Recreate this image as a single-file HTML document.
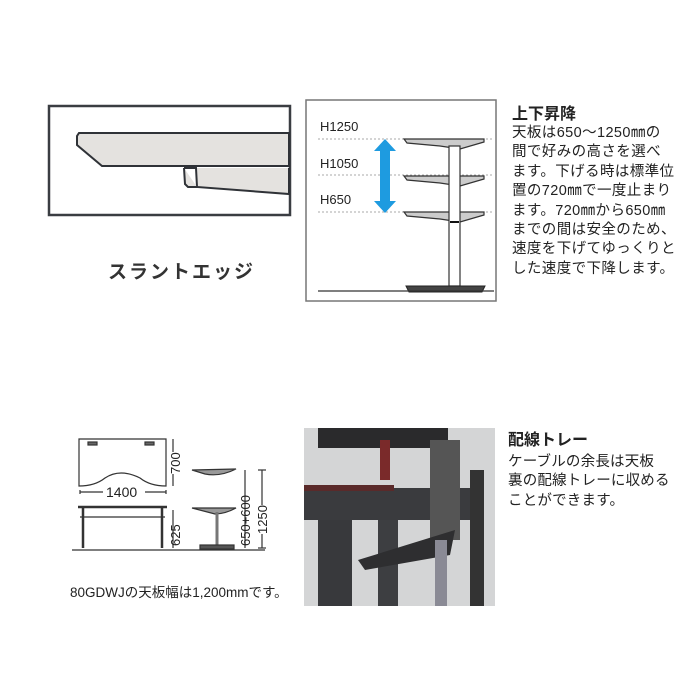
<!DOCTYPE html>
<html><head><meta charset="utf-8"><style>
body{margin:0;width:700px;height:700px;background:#fff;position:relative;overflow:hidden;font-family:"Liberation Sans","Noto Sans CJK JP",sans-serif;color:#222}
.t{position:absolute;white-space:nowrap}
</style></head><body>
<svg width="700" height="700" style="position:absolute;left:0;top:0">
<rect x="49" y="106" width="241" height="109" fill="#fff" stroke="#3a3d42" stroke-width="2.5"/>
<path d="M289,133 L79,133 L77,136 L77,145 L102,166 L289,166 Z" fill="#e4e2df" stroke="#2f3237" stroke-width="2"/>
<path d="M184,168 L196,168 L197,187 L289,194 L289,168" fill="#e4e2df" stroke="#2f3237" stroke-width="2"/>
<path d="M184,168 L185,184 L188,187 L197,187" fill="#e4e2df" stroke="#2f3237" stroke-width="2"/>
<rect x="306" y="100" width="190" height="201" fill="#fff" stroke="#777" stroke-width="1.5"/>
<g stroke="#aaa" stroke-dasharray="2,2" stroke-width="1"><line x1="318" y1="139" x2="494" y2="139"/><line x1="318" y1="175" x2="494" y2="175"/><line x1="318" y1="212" x2="494" y2="212"/></g>
<polygon points="385,139 396,151 390,151 390,201 396,201 385,213 374,201 380,201 380,151 374,151" fill="#1e9be0"/>
<g fill="#ccc" stroke="#333" stroke-width="1.2">
<path d="M404,139 L484,139 L484,142 L460,149 L440,146 L407,143 Z"/>
<path d="M404,176 L484,176 L484,179 L460,186 L440,183 L407,180 Z"/>
<path d="M404,212 L484,212 L484,215 L460,222 L440,219 L407,216 Z"/>
</g>
<rect x="449" y="146" width="11" height="140" fill="#fff" stroke="#333" stroke-width="1.2"/>
<rect x="450" y="221" width="9" height="2" fill="#111"/>
<path d="M406,286 L485,286 L482,292 L409,292 Z" fill="#444" stroke="#222"/>
<line x1="318" y1="291" x2="494" y2="291" stroke="#333" stroke-width="1.2"/>
<g stroke="#333" stroke-width="1.2" fill="none">
<path d="M79,439 L166,439 L166,486 Q150,486 140,478 Q120,468 105,478 Q95,486 79,486 Z"/>
<rect x="88" y="442" width="9" height="3" fill="#666"/><rect x="145" y="442" width="9" height="3" fill="#666"/>
<line x1="80" y1="490" x2="80" y2="494"/><line x1="166" y1="490" x2="166" y2="494"/>
<line x1="80" y1="492" x2="103" y2="492"/><line x1="145" y1="492" x2="166" y2="492"/>
<line x1="173" y1="439" x2="173" y2="486"/>
<line x1="78" y1="507" x2="167" y2="507" stroke-width="2.5"/>
<line x1="80" y1="517" x2="165" y2="517"/>
<line x1="83" y1="508" x2="83" y2="548" stroke-width="2.5"/><line x1="162" y1="508" x2="162" y2="548" stroke-width="2.5"/>
<line x1="72" y1="550" x2="265" y2="550"/>
<line x1="173" y1="510" x2="173" y2="548"/>
<path d="M192,470 L236,469 Q220,477 205,474 Z" fill="#999"/>
<path d="M192,508 L236,508 Q225,514 215,514 Z" fill="#999"/>
<line x1="217" y1="512" x2="217" y2="545" stroke-width="3" stroke="#777"/>
<rect x="200" y="545" width="34" height="4" fill="#555"/>
<line x1="245" y1="470" x2="245" y2="548"/><line x1="262" y1="470" x2="262" y2="548"/>
<line x1="258" y1="470" x2="266" y2="470"/><line x1="258" y1="548" x2="266" y2="548"/>
</g>
<rect x="304" y="428" width="191" height="178" fill="#d4d5d6"/>
<rect x="318" y="428" width="130" height="20" fill="#2a2a2c"/>
<rect x="304" y="488" width="180" height="32" fill="#3a3b3e"/>
<rect x="318" y="520" width="34" height="86" fill="#38393c"/>
<rect x="378" y="520" width="20" height="86" fill="#3d3e41"/>
<rect x="470" y="470" width="14" height="136" fill="#333"/>
<rect x="430" y="440" width="30" height="100" fill="#555"/>
<path d="M358,560 L455,530 L450,555 L365,570 Z" fill="#2e2e30"/>
<rect x="380" y="440" width="10" height="40" fill="#7a2a2a"/>
<rect x="435" y="540" width="12" height="66" fill="#8a8a95"/>
<rect x="304" y="485" width="90" height="6" fill="#5a2a2a"/>
</svg>
<div class="t" style="left:108px;top:257px;font-size:19px;letter-spacing:2px;font-weight:bold;color:#333">スラントエッジ</div>
<div class="t" style="left:320px;top:119px;font-size:13px">H1250</div>
<div class="t" style="left:320px;top:156px;font-size:13px">H1050</div>
<div class="t" style="left:320px;top:192px;font-size:13px">H650</div>
<div class="t" style="left:512px;top:100px;font-size:16px;font-weight:bold">上下昇降</div>
<div class="t" style="left:512px;top:124px;font-size:14.5px;letter-spacing:0.4px;line-height:19.4px">天板は650～1250㎜の<br>間で好みの高さを選べ<br>ます。下げる時は標準位<br>置の720㎜で一度止まり<br>ます。720㎜から650㎜<br>までの間は安全のため、<br>速度を下げてゆっくりと<br>した速度で下降します。</div>
<div class="t" style="left:106px;top:484px;font-size:14px">1400</div>
<div class="t" style="left:168px;top:474px;font-size:13px;transform:rotate(-90deg);transform-origin:left top;background:#fff">700</div>
<div class="t" style="left:168px;top:546px;font-size:13px;transform:rotate(-90deg);transform-origin:left top">625</div>
<div class="t" style="left:238px;top:546px;font-size:13px;transform:rotate(-90deg);transform-origin:left top">650+600</div>
<div class="t" style="left:255px;top:534px;font-size:13px;transform:rotate(-90deg);transform-origin:left top;background:#fff">1250</div>
<div class="t" style="left:70px;top:581px;font-size:13.5px">80GDWJの天板幅は1,200mmです。</div>
<div class="t" style="left:508px;top:426px;font-size:16px;font-weight:bold">配線トレー</div>
<div class="t" style="left:508px;top:453px;font-size:14.5px;letter-spacing:0.2px;line-height:19.4px">ケーブルの余長は天板<br>裏の配線トレーに収める<br>ことができます。</div>
</body></html>
